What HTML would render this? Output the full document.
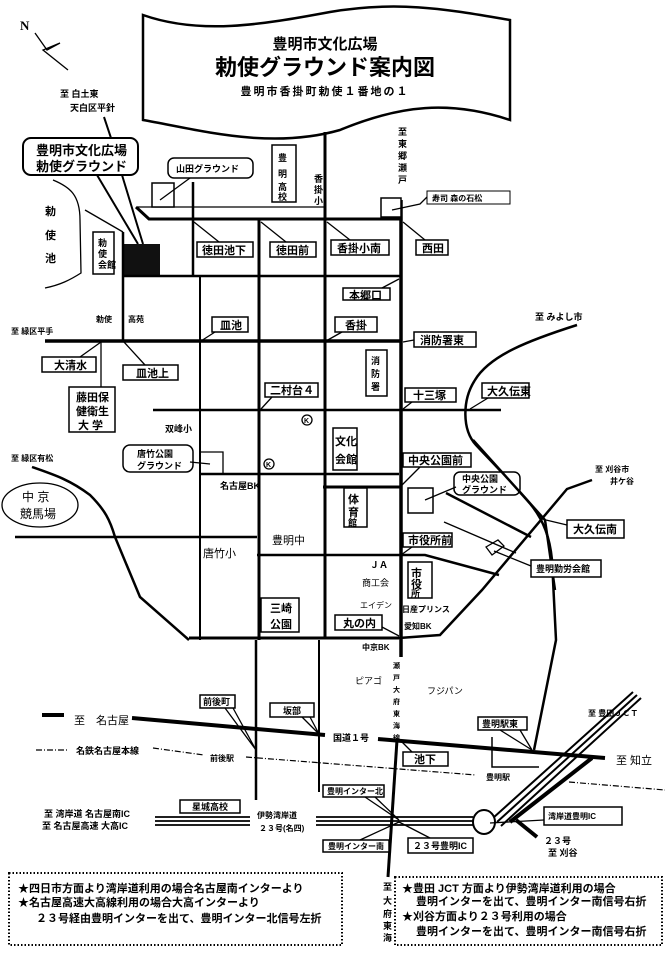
<!DOCTYPE html>
<html><head><meta charset="utf-8"><style>
html,body{margin:0;padding:0;background:#fff;}
svg{display:block;}
text{font-family:"Liberation Sans","Noto Sans CJK JP",sans-serif;font-weight:bold;fill:#000;}
.l{font-size:11px;}
.s{font-size:9px;}
.b{fill:#fff;stroke:#000;stroke-width:1.5;}
.r{stroke:#000;fill:none;stroke-width:3;}
.t{stroke:#000;fill:none;stroke-width:1.3;}
</style></head><body>
<svg width="665" height="953" viewBox="0 0 665 953" xmlns="http://www.w3.org/2000/svg">
<!-- North arrow -->
<text x="20" y="30" style="font-size:13px;font-family:'Liberation Serif',serif">N</text>
<path class="t" d="M35 33 L47 50 L60 43 L43 50 L68 70"/>
<!-- Banner -->
<path d="M143 15 C200 35,260 25,330 12 C400 0,450 10,510 20 L510 120 C450 100,400 105,340 130 C270 150,200 130,143 120 Z" fill="#fff" stroke="#000" stroke-width="2.5"/>
<text x="325" y="49" text-anchor="middle" style="font-size:15px">豊明市文化広場</text>
<text x="325" y="75" text-anchor="middle" style="font-size:22px">勅使グラウンド案内図</text>
<text x="325" y="95" text-anchor="middle" style="font-size:11px;letter-spacing:2px">豊明市香掛町勅使１番地の１</text>
<!-- top left -->
<text x="60" y="97" class="s">至 白土東</text>
<text x="70" y="111" class="s">天白区平針</text>
<line class="r" x1="104" y1="117" x2="111" y2="138" style="stroke-width:2"/>
<rect x="23" y="138" width="115" height="37" rx="8" class="b" style="stroke-width:2"/>
<text x="36" y="155" style="font-size:13px">豊明市文化広場</text>
<text x="36" y="171" style="font-size:13px">勅使グラウンド</text>
<path class="r" d="M97 175 L138 244 M122 175 L143 244" style="stroke-width:2"/>
<rect x="123" y="244" width="37" height="32" fill="#111"/>
<!-- lake -->
<path class="t" d="M53 180 C70 187,80 195,80 220 L81 273 C70 280,60 285,45 288"/>
<line class="t" x1="85" y1="210" x2="123" y2="232"/>
<text x="45" y="215" class="l">勅</text><text x="45" y="239" class="l">使</text><text x="45" y="262" class="l">池</text>
<rect x="93" y="232" width="21" height="42" class="b"/>
<text x="98" y="246" class="s">勅</text><text x="98" y="257" class="s">使</text><text x="98" y="268" class="s">会館</text>
<!-- Roads top -->
<path class="t" d="M138 207 L325 207"/>
<path class="r" d="M136 207 L149 219 L401 219"/>
<path class="r" d="M123 232 L123 340" style="stroke-width:2.5"/>
<path class="r" d="M193 182 L193 276" style="stroke-width:2.5"/>
<path class="r" d="M259 219 L259 640" style="stroke-width:3"/>
<path class="r" d="M325 132 L325 638" style="stroke-width:3"/>
<path class="r" d="M401 200 L401 657" style="stroke-width:3.5"/>
<path class="r" d="M123 276 L401 276" style="stroke-width:2.5"/>
<path class="r" d="M200 276 L200 640" style="stroke-width:2"/>
<!-- Yamada -->
<rect x="152" y="183" width="22" height="24" class="b"/>
<rect x="168" y="158" width="85" height="20" rx="6" class="b"/>
<text x="176" y="172" class="s">山田グラウンド</text>
<path class="t" d="M160 200 L190 178"/>
<rect x="272" y="145" width="24" height="57" class="b"/>
<text x="278" y="161" class="s">豊</text><text x="278" y="177" class="s">明</text><text x="278" y="190" class="s">高</text><text x="278" y="200" class="s">校</text>
<text x="314" y="182" class="s">香</text><text x="314" y="193" class="s">掛</text><text x="314" y="204" class="s">小</text>
<text x="398" y="135" class="s">至</text><text x="398" y="147" class="s">東</text><text x="398" y="159" class="s">郷</text><text x="398" y="171" class="s">瀬</text><text x="398" y="183" class="s">戸</text>
<rect x="381" y="198" width="20" height="19" class="b"/>
<rect x="427" y="191" width="83" height="13" class="b" style="stroke-width:1"/>
<text x="432" y="201" class="s" style="font-size:8px">寿司 森の石松</text>
<path class="t" d="M392 210 L420 204 L427 197"/>
<!-- labels row -->
<rect x="197" y="242" width="56" height="15" class="b"/><text x="202" y="254" class="l">徳田池下</text>
<path class="t" d="M194 222 L219 242"/>
<rect x="270" y="242" width="46" height="15" class="b"/><text x="276" y="254" class="l">徳田前</text>
<path class="t" d="M261 222 L286 242"/>
<rect x="331" y="240" width="58" height="15" class="b"/><text x="337" y="252" class="l">香掛小南</text>
<path class="t" d="M327 222 L350 240"/>
<rect x="416" y="240" width="32" height="15" class="b"/><text x="422" y="252" class="l">西田</text>
<path class="t" d="M403 222 L425 240"/>
<rect x="343" y="288" width="47" height="12" class="b"/><text x="349" y="299" class="l">本郷口</text>
<path class="t" d="M399 279 L382 288"/>
<text x="96" y="322" class="s" style="font-size:8px">勅使</text><text x="128" y="322" class="s" style="font-size:8px">高苑</text>
<text x="535" y="320" class="s">至 みよし市</text>
<!-- main horiz -->
<text x="11" y="334" class="s" style="font-size:8px">至 緑区平手</text>
<path class="r" d="M45 341 L401 341" style="stroke-width:3.5"/>
<rect x="212" y="317" width="36" height="15" class="b"/><text x="220" y="329" class="l">皿池</text>
<path class="t" d="M201 341 L215 332"/>
<rect x="335" y="317" width="42" height="15" class="b"/><text x="345" y="329" class="l">香掛</text>
<path class="t" d="M326 341 L342 332"/>
<rect x="414" y="332" width="62" height="15" class="b"/><text x="420" y="344" class="l">消防署東</text>
<path class="t" d="M403 342 L414 340"/>
<rect x="42" y="357" width="54" height="15" class="b"/><text x="54" y="369" class="l">大清水</text>
<path class="t" d="M101 342 L80 357"/>
<rect x="123" y="365" width="55" height="15" class="b"/><text x="136" y="377" class="l">皿池上</text>
<path class="t" d="M124 342 L145 365"/>
<path class="t" d="M101 341 L101 387"/>
<rect x="69" y="387" width="46" height="45" class="b"/>
<text x="76" y="401" class="l">藤田保</text><text x="76" y="415" class="l">健衛生</text><text x="78" y="429" class="l">大 学</text>
<rect x="366" y="350" width="21" height="46" class="b"/>
<text x="371" y="364" class="s">消</text><text x="371" y="377" class="s">防</text><text x="371" y="390" class="s">署</text>
<path class="r" d="M153 410 L501 410" style="stroke-width:2.5"/>
<rect x="265" y="383" width="53" height="14" class="b"/><text x="270" y="394" class="l">二村台４</text>
<path class="t" d="M261 409 L272 397"/>
<rect x="405" y="388" width="51" height="14" class="b"/><text x="413" y="399" class="l">十三塚</text>
<path class="t" d="M403 409 L412 402"/>
<rect x="482" y="383" width="47" height="15" class="b"/><text x="487" y="395" class="l">大久伝東</text>
<path class="t" d="M470 409 L488 398"/>
<!-- right curve road -->
<path class="r" d="M577 325 C530 340,490 355,475 380 C462 400,462 430,476 445 C490 460,505 475,527 500 C545 520,550 540,552 560 L556 640 L534 750" style="stroke-width:2.5"/>
<text x="165" y="432" class="s">双峰小</text>
<circle cx="307" cy="420" r="5" class="t" fill="none"/><text x="304" y="423" style="font-size:7px">K</text>
<circle cx="269" cy="464" r="5" class="t" fill="none"/><text x="266" y="467" style="font-size:7px">K</text>
<rect x="333" y="428" width="24" height="42" class="b"/>
<text x="335" y="445" class="l">文化</text><text x="335" y="463" class="l">会館</text>
<rect x="123" y="445" width="70" height="27" rx="7" class="b"/>
<text x="137" y="457" class="s">唐竹公園</text><text x="137" y="469" class="s">グラウンド</text>
<path class="t" d="M190 462 L210 464"/>
<path class="t" d="M200 452 L223 452 L223 473"/>
<text x="11" y="461" class="s" style="font-size:8px">至 緑区有松</text>
<path class="r" d="M200 474 L399 474" style="stroke-width:2.5"/>
<path class="r" d="M323 487 L401 487" style="stroke-width:3"/>
<text x="220" y="489" class="s">名古屋BK</text>
<rect x="403" y="453" width="68" height="14" class="b"/><text x="408" y="464" class="l">中央公園前</text>
<path class="t" d="M401 486 L420 467"/>
<rect x="408" y="488" width="25" height="25" class="b"/>
<rect x="454" y="472" width="66" height="23" rx="6" class="b"/>
<text x="462" y="482" class="s">中央公園</text><text x="462" y="493" class="s">グラウンド</text>
<path class="t" d="M425 500 L456 487"/>
<rect x="344" y="488" width="23" height="39" class="b"/>
<text x="348" y="503" class="l">体</text><text x="348" y="516" class="l">育</text><text x="348" y="526" class="s">館</text>
<ellipse cx="40" cy="505" rx="38" ry="22" class="t"/>
<text x="22" y="501" style="font-size:12px;font-weight:normal">中 京</text><text x="20" y="518" style="font-size:12px;font-weight:normal">競馬場</text>
<path class="r" d="M32 467 C55 475,70 480,90 495 C105 510,110 520,115 537 L140 597 L189 640" style="stroke-width:2.5"/>
<path class="r" d="M15 537 L257 537" style="stroke-width:2.5"/>
<text x="203" y="557" class="l" style="font-weight:normal">唐竹小</text>
<text x="272" y="544" class="l" style="font-weight:normal">豊明中</text>
<path class="r" d="M257 555 L425 555 L499 575" style="stroke-width:2.5"/>
<path class="r" d="M592 480 L567 489 L482 590 L440 635 L399 638" style="stroke-width:2.5"/>
<path class="r" d="M446 493 L531 537" style="stroke-width:2.5"/>
<path class="t" d="M444 522 L516 553"/>
<path class="r" d="M473 440 L500 470 L545 520 L555 590" style="stroke-width:2.5"/>
<text x="595" y="472" class="s" style="font-size:8px">至 刈谷市</text><text x="610" y="484" class="s" style="font-size:8px">井ケ谷</text>
<rect x="567" y="520" width="57" height="18" class="b"/><text x="573" y="533" class="l">大久伝南</text>
<path class="t" d="M546 520 L567 525"/>
<path class="t" d="M486 547 L498 540 L504 546 L492 555 Z" fill="#fff"/>
<path class="t" d="M494 551 L531 566"/>
<rect x="531" y="560" width="70" height="17" class="b"/><text x="536" y="572" class="s">豊明勤労会館</text>
<rect x="403" y="533" width="49" height="14" class="b"/><text x="408" y="544" class="l">市役所前</text>
<path class="t" d="M401 555 L412 547"/>
<rect x="408" y="562" width="24" height="36" class="b"/>
<text x="411" y="577" class="l">市</text><text x="411" y="588" class="l">役</text><text x="411" y="597" class="s">所</text>
<text x="370" y="568" class="s">ＪＡ</text>
<text x="362" y="586" class="s" style="font-weight:normal">商工会</text>
<text x="360" y="608" class="s" style="font-size:8px;font-weight:normal">エイデン</text>
<text x="402" y="612" class="s" style="font-size:8px">日産プリンス</text>
<text x="404" y="629" class="s" style="font-size:8px">愛知BK</text>
<rect x="261" y="598" width="38" height="34" class="b"/>
<text x="270" y="612" class="l">三崎</text><text x="270" y="628" class="l">公園</text>
<rect x="335" y="615" width="47" height="15" class="b"/><text x="343" y="627" class="l">丸の内</text>
<path class="t" d="M382 627 L399 636"/>
<path class="r" d="M189 638 L399 638" style="stroke-width:3"/>
<!-- lower -->
<text x="362" y="650" class="s" style="font-size:8px">中京BK</text>
<text x="393" y="668" class="s" style="font-size:7px">瀬</text><text x="393" y="680" class="s" style="font-size:7px">戸</text><text x="393" y="692" class="s" style="font-size:7px">大</text><text x="393" y="704" class="s" style="font-size:7px">府</text><text x="393" y="716" class="s" style="font-size:7px">東</text><text x="393" y="728" class="s" style="font-size:7px">海</text><text x="393" y="740" class="s" style="font-size:7px">線</text>
<path class="r" d="M397 740 L388 877" style="stroke-width:3"/>
<path class="r" d="M256 640 L256 800" style="stroke-width:2.5"/>
<path class="r" d="M319 640 L319 792" style="stroke-width:2"/>
<text x="355" y="684" class="s" style="font-weight:normal">ピアゴ</text>
<text x="427" y="694" class="s" style="font-weight:normal">フジパン</text>
<rect x="200" y="695" width="35" height="13" class="b"/><text x="203" y="705" class="s">前後町</text>
<path class="t" d="M233 708 L256 750 M225 708 L256 750"/>
<rect x="270" y="703" width="44" height="14" class="b"/><text x="283" y="714" class="s">坂部</text>
<path class="t" d="M302 717 L319 734 M310 717 L319 734"/>
<path d="M42 715 L64 715" stroke="#000" stroke-width="4"/>
<text x="74" y="724" class="l" style="font-weight:normal">至　名古屋</text>
<path class="r" d="M132 718 L325 735" style="stroke-width:4"/>
<text x="333" y="741" class="s">国道１号</text>
<path class="r" d="M378 739 L605 758" style="stroke-width:4"/>
<text x="616" y="764" class="l" style="font-weight:normal">至 知立</text>
<path d="M36 750 L68 750 M153 748 L204 755 M246 757 L476 775 M569 782 L665 790" stroke="#000" stroke-width="1.2" stroke-dasharray="6,2,1,2" fill="none"/>
<text x="76" y="754" class="s">名鉄名古屋本線</text>
<text x="210" y="761" class="s" style="font-size:8px">前後駅</text>
<text x="486" y="780" class="s" style="font-size:8px">豊明駅</text>
<rect x="403" y="752" width="45" height="14" class="b"/><text x="414" y="763" class="l">池下</text>
<path class="t" d="M400 740 L412 752"/>
<rect x="478" y="717" width="49" height="13" class="b"/><text x="482" y="727" class="s">豊明駅東</text>
<path class="t" d="M500 730 L532 750 M520 730 L532 750"/>
<path class="r" d="M492 737 L492 767 L539 767" style="stroke-width:1.5"/>
<path class="r" d="M530 755 L556 640" style="stroke-width:0"/>
<text x="588" y="716" class="s" style="font-size:8px">至 豊田ＪＣＴ</text>
<path d="M637 695 L497 822 M633 692 L493 818 M641 698 L501 826" stroke="#000" stroke-width="2" fill="none"/>
<path d="M592 758 L510 822" stroke="#000" stroke-width="4"/>
<path d="M516 820 L537 837" stroke="#000" stroke-width="4"/>
<ellipse cx="484" cy="822" rx="11" ry="12" fill="#fff" stroke="#000" stroke-width="2"/>
<path d="M155 817 L250 817 M155 821 L250 821 M155 825 L250 825 M316 817 L473 817 M316 821 L473 821 M316 825 L473 825" stroke="#000" stroke-width="1.8"/>
<text x="44" y="817" class="s">至 湾岸道 名古屋南IC</text>
<text x="42" y="829" class="s">至 名古屋高速 大高IC</text>
<rect x="180" y="800" width="60" height="13" class="b"/><text x="192" y="810" class="s">星城高校</text>
<text x="257" y="818" class="s" style="font-size:8px">伊勢湾岸道</text>
<text x="259" y="831" class="s" style="font-size:8px">２３号(名四)</text>
<rect x="323" y="785" width="61" height="12" class="b"/><text x="327" y="794" class="s" style="font-size:8px">豊明インター北</text>
<path class="t" d="M365 797 L399 820 M375 797 L399 820"/>
<rect x="323" y="840" width="66" height="12" class="b"/><text x="328" y="849" class="s" style="font-size:8px">豊明インター南</text>
<path class="t" d="M360 840 L399 822"/>
<rect x="408" y="838" width="65" height="15" class="b"/><text x="413" y="849" class="s">２３号豊明IC</text>
<path class="t" d="M399 822 L430 838"/>
<rect x="544" y="807" width="78" height="18" class="b"/><text x="548" y="819" class="s" style="font-size:8px">湾岸道豊明IC</text>
<path class="t" d="M490 823 L544 820"/>
<text x="544" y="844" class="s">２３号</text>
<text x="548" y="856" class="s">至 刈谷</text>
<text x="383" y="890" class="s">至</text><text x="383" y="904" class="s">大</text><text x="383" y="917" class="s">府</text><text x="383" y="929" class="s">東</text><text x="383" y="941" class="s">海</text>
<!-- dotted boxes -->
<rect x="9" y="873" width="333" height="72" fill="none" stroke="#000" stroke-width="2" stroke-dasharray="1.5,2"/>
<text x="18" y="892" style="font-size:11px">★四日市方面より湾岸道利用の場合名古屋南インターより</text>
<text x="18" y="906" style="font-size:11px">★名古屋高速大高線利用の場合大高インターより</text>
<text x="36" y="922" style="font-size:11px">２３号経由豊明インターを出て、豊明インター北信号左折</text>
<rect x="395" y="877" width="267" height="68" fill="none" stroke="#000" stroke-width="2" stroke-dasharray="1.5,2"/>
<text x="402" y="892" style="font-size:11px">★豊田 JCT 方面より伊勢湾岸道利用の場合</text>
<text x="416" y="905" style="font-size:11px">豊明インターを出て、豊明インター南信号右折</text>
<text x="402" y="920" style="font-size:11px">★刈谷方面より２３号利用の場合</text>
<text x="416" y="935" style="font-size:11px">豊明インターを出て、豊明インター南信号右折</text>
</svg>
</body></html>
